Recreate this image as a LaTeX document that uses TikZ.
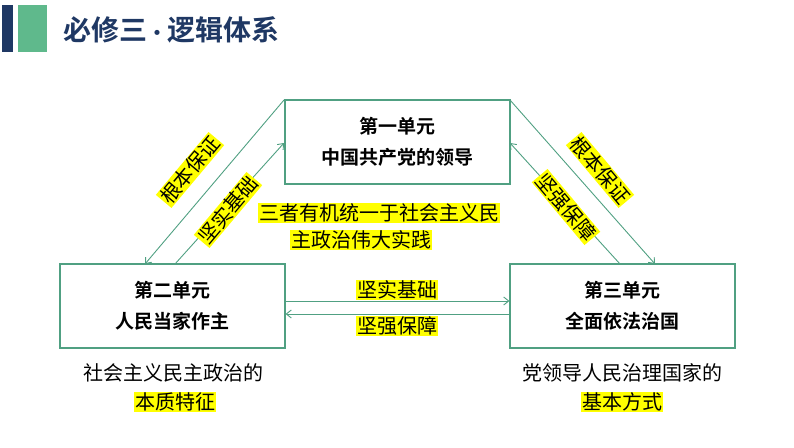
\documentclass[tikz,border=0pt]{standalone}
\usepackage{fontspec}
\newfontfamily\cjk{Noto Sans CJK SC}
\newfontfamily\cjkb{Noto Sans CJK SC Bold}
\usetikzlibrary{arrows.meta}
\definecolor{navy}{RGB}{31,56,100}
\definecolor{grn}{RGB}{95,185,140}
\definecolor{edge}{RGB}{80,160,130}
\definecolor{hl}{RGB}{255,255,0}
\tikzset{
 box/.style={draw=edge,line width=1.2pt,minimum width=225pt,minimum height=84pt,align=center,font=\cjkb\fontsize{19}{31}\selectfont},
 lab/.style={fill=hl,inner sep=1pt,font=\cjk\fontsize{20}{22}\selectfont},
 plain/.style={inner sep=1pt,font=\cjk\fontsize{20}{22}\selectfont},
 con/.style={draw=edge,line width=0.9pt,-{Straight Barb[length=5pt,width=8pt]}}
}
\begin{document}
\begin{tikzpicture}[x=1pt,y=-1pt]
\useasboundingbox (0,0) rectangle (794,447);
\fill[navy] (2,5) rectangle (13,52);
\fill[grn] (18,5) rectangle (47,52);
\node[anchor=west,text=navy,inner sep=0pt,font=\cjkb\fontsize{28}{30}\selectfont] (title) at (63,30) {必修三{\fontsize{20}{20}\selectfont·}逻辑体系};
\node[box] (b1) at (397.5,142) {第一单元\\中国共产党的领导};
\node[box] (b2) at (172.5,306) {第二单元\\人民当家作主};
\node[box] (b3) at (622.5,306) {第三单元\\全面依法治国};
\coordinate (l1) at (284,100); \coordinate (l2) at (145,264);
\coordinate (l3) at (175,264); \coordinate (l4) at (284,143);
\coordinate (r1) at (510,100); \coordinate (r2) at (655,264);
\coordinate (r3) at (620,264); \coordinate (r4) at (510,143);
\draw[con] (l1) -- (l2);
\draw[con] (l3) -- (l4);
\draw[con] (r1) -- (r2);
\draw[con] (r3) -- (r4);
\draw[con] (b2.east|-0,301) -- (b3.west|-0,301);
\draw[con] (b3.west|-0,314) -- (b2.east|-0,314);
\node[lab,rotate=50] (t1) at (190,170) {根本保证};
\node[lab,rotate=50] (t2) at (228,210) {坚实基础};
\node[lab,rotate=-50] (t3) at (600,170) {根本保证};
\node[lab,rotate=-50] (t4) at (566,207) {坚强保障};
\node[lab,anchor=west] (m1) at (258,213) {三者有机统一于社会主义民};
\node[lab,anchor=west] (m2) at (290,240) {主政治伟大实践};
\node[lab] (h1) at (397,290) {坚实基础};
\node[lab] (h2) at (397,326) {坚强保障};
\node[plain] (s1) at (173,373) {社会主义民主政治的};
\node[lab] (s2) at (175,402) {本质特征};
\node[plain] (s3) at (622,373) {党领导人民治理国家的};
\node[lab] (s4) at (622,402) {基本方式};
\end{tikzpicture}
\end{document}
